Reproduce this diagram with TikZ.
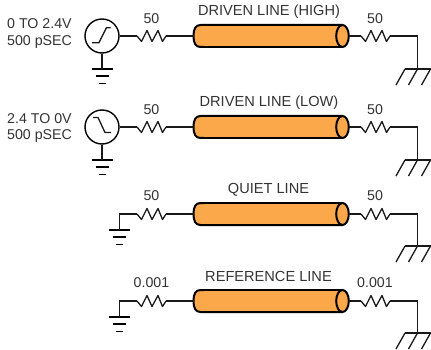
\documentclass[tikz,border=0pt]{standalone}
\usepackage{fontspec}
\setmainfont{Liberation Sans}
\definecolor{txt}{HTML}{333333}
\definecolor{cablefill}{HTML}{FBA84A}
\tikzset{
  x=1pt,y=-1pt,
  wire/.style={line width=1.3pt,black!90},
  lbl/.style={font=\fontsize{14.2}{16}\selectfont,text=txt,inner sep=0pt},
  ttl/.style={lbl,font=\fontsize{14.6}{16}\selectfont},
  srcnode/.style={circle,draw=black,line width=1.4pt,minimum size=34pt,inner sep=0pt},
  pics/resistor/.style={code={
    \coordinate (-a) at (0,0);
    \coordinate (-b) at (29,0);
    \draw[wire,line join=round] (0,0)--(4.5,5.5)--(10,-5.5)--(15,5.5)--(21,-5.5)--(25.5,5.5)--(29,0);
  }},
  pics/cable/.style={code={
    \coordinate (-l) at (0,0);
    \coordinate (-r) at (155.5,0);
    \draw[line width=2pt,black,fill=cablefill] (149,-11)--(7,-11) .. controls (2,-11) and (0,-7) .. (0,0) .. controls (0,7) and (2,11) .. (7,11)--(149,11);
    \fill[cablefill] (10,-10)rectangle(149,10);
    \draw[line width=2pt,black,fill=cablefill] (149,0) ellipse [x radius=6.3,y radius=11];
  }},
  pics/chassis/.style={code={
    \coordinate (-t) at (0,0);
    \draw[wire] (-12.5,0)--(13,0);
    \draw[wire] (-12.5,0)--(-21.5,16) (0,0)--(-9,16) (13,0)--(4,16);
  }},
  pics/earth/.style={code={
    \coordinate (-t) at (0,0);
    \draw[line width=1.6pt,black] (-10.5,0)--(10.5,0) (-6.5,7)--(6.5,7) (-3.5,14.5)--(3.5,14.5);
  }},
}
\begin{document}
\begin{tikzpicture}
\useasboundingbox (0,0) rectangle (431,350);
% row 1
\node[srcnode] (s1) at (102,36) {};
\coordinate (s1a) at (92,42.7);\coordinate (s1b) at (99,42.7);\coordinate (s1c) at (106.5,27.7);\coordinate (s1d) at (110.7,27.7);
\draw[wire] (s1a)--(s1b)--(s1c)--(s1d);
\pic (g1) at (102,69) {earth};
\draw[wire] (s1)--(g1-t);
\pic (r1) at (137,36) {resistor};
\pic (c1) at (193.5,36) {cable};
\pic (q1) at (361,36) {resistor};
\pic (h1) at (417.5,69) {chassis};
\coordinate (k1) at (417.5,36);
\draw[wire] (s1)--(r1-a) (r1-b)--(c1-l) (c1-r)--(q1-a) (q1-b)--(k1)--(h1-t);
\node[lbl,anchor=west] (a1) at (7,24) {0 TO 2.4V};
\node[lbl,anchor=west] (b1) at (7,42) {500 pSEC};
\node[lbl] (v1) at (151.5,19) {50};
\node[lbl] (w1) at (375,19) {50};
\node[ttl] (t1) at (269,12) {DRIVEN LINE (HIGH)};
% row 2
\node[srcnode] (s2) at (102,127) {};
\coordinate (s2a) at (93,117.5);\coordinate (s2b) at (98,117.5);\coordinate (s2c) at (105,132.5);\coordinate (s2d) at (111,132.5);
\draw[wire] (s2a)--(s2b)--(s2c)--(s2d);
\pic (g2) at (102,160) {earth};
\draw[wire] (s2)--(g2-t);
\pic (r2) at (137,127) {resistor};
\pic (c2) at (193.5,127) {cable};
\pic (q2) at (361,127) {resistor};
\pic (h2) at (417.5,160) {chassis};
\coordinate (k2) at (417.5,127);
\draw[wire] (s2)--(r2-a) (r2-b)--(c2-l) (c2-r)--(q2-a) (q2-b)--(k2)--(h2-t);
\node[lbl,anchor=west] (a2) at (7,118.5) {2.4 TO 0V};
\node[lbl,anchor=west] (b2) at (7,136) {500 pSEC};
\node[lbl] (v2) at (151.5,110) {50};
\node[lbl] (w2) at (375,110) {50};
\node[ttl] (t2) at (269,103) {DRIVEN LINE (LOW)};
% row 3
\pic (g3) at (119.3,230) {earth};
\coordinate (j3) at (119.3,214);
\pic (r3) at (137,214) {resistor};
\pic (c3) at (193.5,214) {cable};
\pic (q3) at (361,214) {resistor};
\pic (h3) at (417.5,246) {chassis};
\coordinate (k3) at (417.5,214);
\draw[wire] (g3-t)--(j3)--(r3-a) (r3-b)--(c3-l) (c3-r)--(q3-a) (q3-b)--(k3)--(h3-t);
\node[lbl] (v3) at (151.5,196) {50};
\node[lbl] (w3) at (375,196) {50};
\node[ttl] (t3) at (268.5,190) {QUIET LINE};
% row 4
\pic (g4) at (119.3,317) {earth};
\coordinate (j4) at (119.3,301);
\pic (r4) at (137,301) {resistor};
\pic (c4) at (193.5,301) {cable};
\pic (q4) at (361,301) {resistor};
\pic (h4) at (417.5,333) {chassis};
\coordinate (k4) at (417.5,301);
\draw[wire] (g4-t)--(j4)--(r4-a) (r4-b)--(c4-l) (c4-r)--(q4-a) (q4-b)--(k4)--(h4-t);
\node[lbl] (v4) at (151.5,283) {0.001};
\node[lbl] (w4) at (375,283) {0.001};
\node[ttl] (t4) at (268.5,276) {REFERENCE LINE};
\end{tikzpicture}
\end{document}
